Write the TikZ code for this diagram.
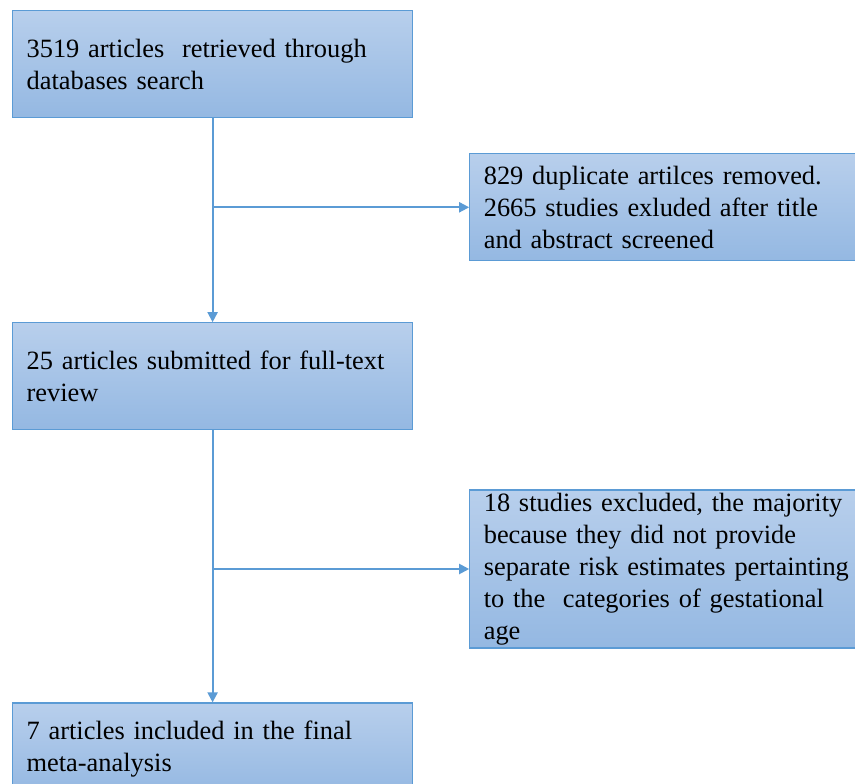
\documentclass[tikz,border=0pt]{standalone}
\usepackage{fontspec}
\setmainfont{Liberation Serif}
\usetikzlibrary{arrows.meta,positioning}
\definecolor{boxtop}{RGB}{184,207,236}
\definecolor{boxbot}{RGB}{148,184,226}
\definecolor{edgeblue}{RGB}{91,155,213}
\newcommand{\boxfont}{\fontsize{26.4}{32}\selectfont\hyphenpenalty=10000\relax}

\begin{document}
\begin{tikzpicture}[
    x=1pt, y=1pt,
    box/.style={draw=edgeblue, line width=1.2pt, top color=boxtop,
                bottom color=boxbot, align=left, text width=372pt,
                inner xsep=14pt, inner ysep=0pt, minimum width=400pt,
                font=\boxfont},
    line/.style={-{Triangle[length=10pt,width=10pt]}, draw=edgeblue,
                 line width=2pt}
]
    \useasboundingbox (0,0) rectangle (855,-784);

    \node[box, anchor=north west, minimum height=107pt] (search) at (12,-10)
        {3519 articles~ retrieved through\\databases search};
    \node[box, minimum height=107pt, below=204pt of search] (fulltext)
        {25 articles submitted for full-text\\review};
    \node[box, minimum height=92pt, below=272pt of fulltext] (final)
        {7 articles included in the final\\meta-analysis};
    \node[box, minimum height=107pt, below right=35pt and 56pt of search.south east,
          anchor=north west] (removed)
        {829 duplicate artilces removed.\\2665 studies exluded after title\\and abstract screened};
    \node[box, minimum height=158pt, below right=59pt and 56pt of fulltext.south east,
          anchor=north west] (excluded)
        {18 studies excluded, the majority\\because they did not provide\\separate risk estimates pertainting\\to the~ categories of gestational\\age};

    \draw[line] (search) -- (fulltext);
    \draw[line] (fulltext) -- (final);
    \draw[line] (search.south |- removed.west) -- (removed.west);
    \draw[line] (fulltext.south |- excluded.west) -- (excluded.west);
\end{tikzpicture}
\end{document}
